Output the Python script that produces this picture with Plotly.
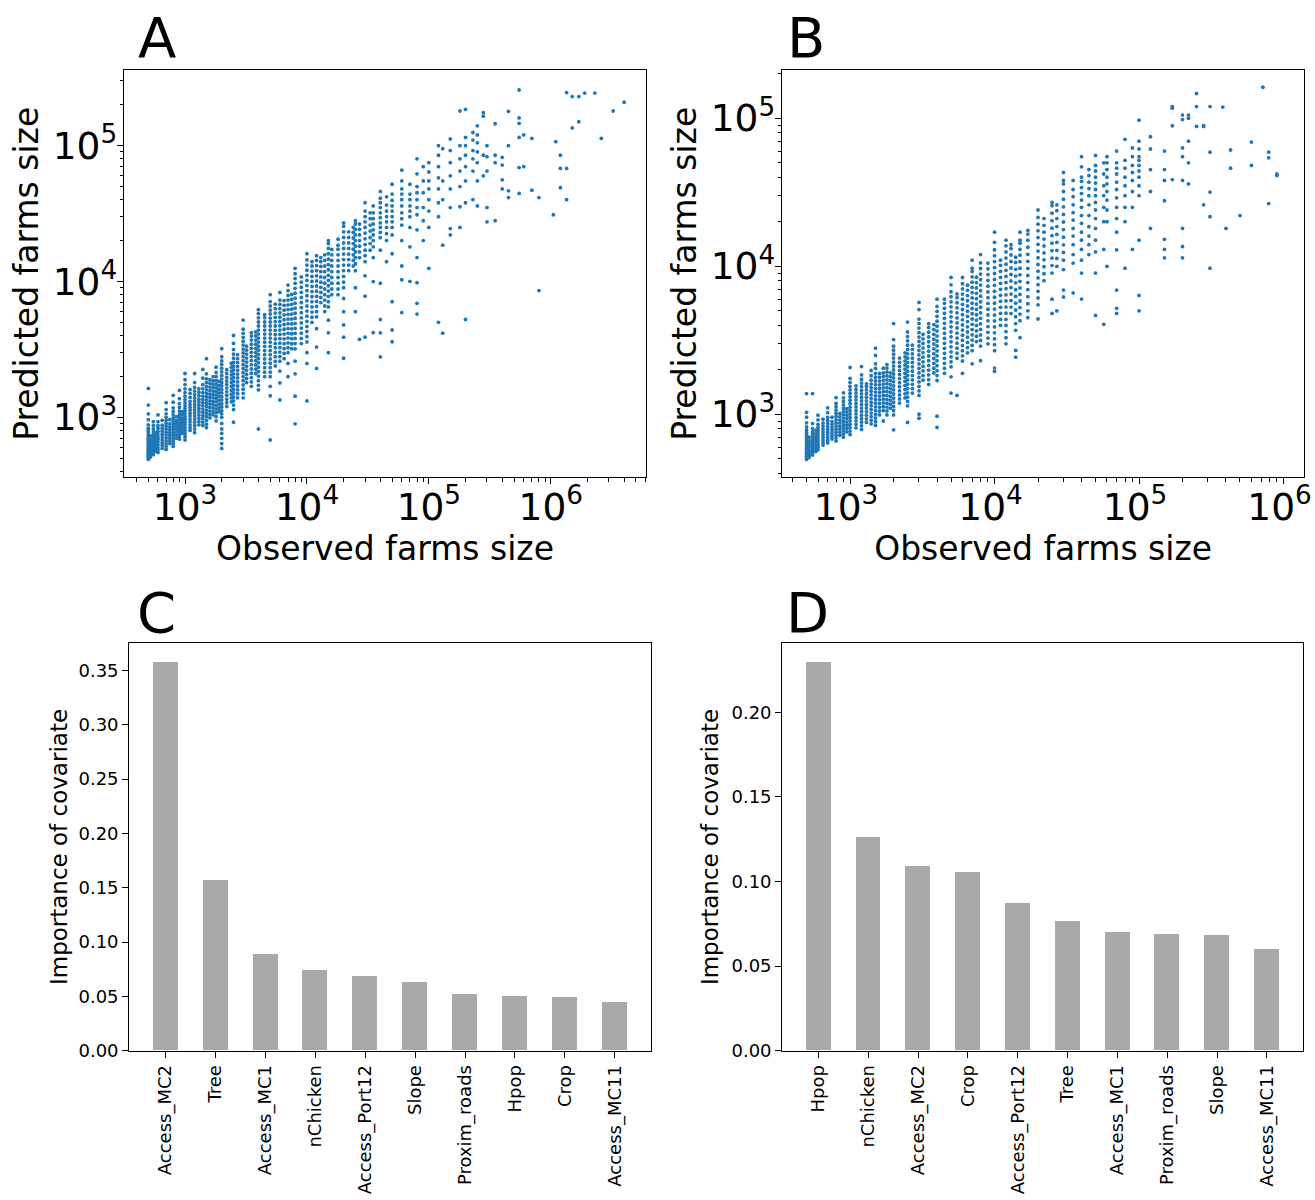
import plotly.graph_objects as go

# ---------------- Panel A: observed vs predicted, grouped by observed farm size ----------------
obs_cols_A = [500, 520, 550, 580, 600, 650, 700, 750, 800, 850, 900, 950, 1000, 1100, 1200, 1300,
              1400, 1500, 1600, 1700, 1800, 1900, 2000, 2200, 2400, 2500, 2700, 3000, 3200, 3500,
              3800, 4000, 4500, 5000, 5500, 6000, 6500, 7000, 7500, 8000, 9000, 10000, 11000,
              12000, 13000, 14000, 15000, 16000, 18000, 20000, 22000, 24000, 25000, 27000, 30000,
              33000, 35000, 40000, 45000, 50000, 60000, 70000, 80000, 90000, 100000, 120000,
              130000, 150000, 180000, 200000, 230000, 250000, 280000, 300000, 350000, 400000,
              450000, 550000, 600000, 700000, 800000, 1050000, 1100000, 1200000, 1350000,
              1500000, 1700000, 1900000, 2300000, 2600000, 3250000, 4000000]
pred_cols_A = [
    [490, 505, 520, 535, 550, 565, 580, 595, 610, 630, 650, 670, 690, 715, 740, 770, 800, 830, 880, 960, 1060, 1230, 1630],
    [510, 530, 550, 575, 600, 625, 655, 690, 730],
    [530, 550, 575, 600, 625, 650, 680, 710, 745, 780, 820, 870, 930],
    [560, 585, 610, 640, 670, 700, 735, 770],
    [550, 575, 600, 630, 660, 690, 720, 755, 790, 830, 870, 930, 1040],
    [590, 620, 650, 680, 715, 750, 790, 830, 875, 950],
    [580, 610, 640, 670, 705, 740, 775, 815, 855, 900, 950, 1000, 1060, 1140, 1280],
    [640, 670, 700, 735, 770, 810, 850, 895, 960],
    [610, 640, 670, 700, 735, 770, 810, 850, 890, 935, 985, 1040, 1100, 1170, 1290, 1450],
    [700, 740, 780, 820, 860, 905, 950, 1010],
    [690, 720, 755, 790, 830, 870, 910, 955, 1000, 1050, 1110, 1180, 1260, 1370, 1580],
    [760, 800, 840, 885, 930, 980, 1040, 1100],
    [680, 720, 760, 800, 840, 880, 920, 965, 1010, 1060, 1110, 1160, 1220, 1280, 1350, 1430, 1520, 1620, 1740, 1890, 2100],
    [800, 840, 880, 925, 970, 1020, 1070, 1125, 1180, 1240, 1310, 1400, 1500, 1600],
    [770, 820, 870, 920, 970, 1020, 1075, 1130, 1190, 1250, 1320, 1390, 1470, 1560, 1660, 1800, 2100],
    [880, 930, 985, 1040, 1100, 1160, 1225, 1290, 1360, 1440, 1530, 1620],
    [870, 920, 975, 1030, 1090, 1150, 1215, 1280, 1350, 1430, 1520, 1620, 1740, 1940, 2250],
    [840, 890, 950, 1010, 1070, 1130, 1200, 1270, 1340, 1420, 1500, 1590, 1690, 1800, 1920, 2090, 2700],
    [990, 1050, 1110, 1180, 1250, 1320, 1400, 1480, 1570, 1670, 1780, 1890],
    [1040, 1100, 1170, 1240, 1310, 1390, 1470, 1560, 1650, 1750, 1860, 1990],
    [940, 1010, 1080, 1150, 1220, 1300, 1380, 1460, 1550, 1650, 1760, 1870, 2000, 2140, 2340],
    [1100, 1170, 1250, 1330, 1420, 1510, 1610, 1720, 1840],
    [590, 640, 700, 760, 820, 900, 1000, 1060, 1120, 1190, 1260, 1340, 1420, 1510, 1600, 1700, 1800, 1910, 2030, 2160, 2300, 2450, 2600, 2790, 3200],
    [1200, 1280, 1360, 1450, 1540, 1640, 1740, 1850, 1970, 2100, 2240],
    [1300, 1390, 1480, 1580, 1690, 1800, 1920, 2050, 2190, 2340, 2500],
    [920, 1140, 1230, 1320, 1410, 1510, 1610, 1720, 1840, 1960, 2090, 2230, 2380, 2540, 2720, 2920, 3150, 3500, 4000],
    [1390, 1490, 1590, 1700, 1820, 1950, 2080, 2220, 2370, 2530, 2700, 2890],
    [1390, 1500, 1610, 1730, 1860, 1990, 2130, 2280, 2440, 2610, 2790, 2980, 3180, 3400, 3630, 3880, 4150, 4450, 5200],
    [1800, 1930, 2070, 2220, 2380, 2550, 2730, 2920, 3120, 3340],
    [1690, 1820, 1960, 2110, 2270, 2440, 2620, 2810, 3010, 3220, 3450, 3700, 3960, 4200],
    [2100, 2260, 2430, 2610, 2800, 3000, 3220, 3450, 3700, 3970, 4250],
    [820, 1590, 1720, 1860, 2010, 2170, 2340, 2520, 2710, 2910, 3120, 3340, 3580, 3830, 4100, 4390, 4700, 5030, 5400, 5800, 6200],
    [1990, 2150, 2320, 2500, 2690, 2890, 3100, 3330, 3570, 3830, 4100, 4390, 4700, 5030, 5400, 5700],
    [680, 1440, 1690, 1990, 2150, 2320, 2500, 2690, 2890, 3100, 3330, 3570, 3830, 4100, 4390, 4700, 5030, 5380, 5760, 6160, 6600, 7100, 8000],
    [2390, 2580, 2790, 3010, 3250, 3500, 3770, 4060, 4370, 4700, 5060, 5440, 5850, 6300, 6800],
    [1340, 1790, 2190, 2590, 2800, 3020, 3260, 3520, 3790, 4080, 4390, 4720, 5080, 5460, 5870, 6310, 6790, 7300, 8300],
    [2700, 2950, 3200, 3480, 3780, 4100, 4450, 4820, 5230, 5670, 6150, 6670, 7230],
    [1990, 2490, 2990, 3250, 3530, 3830, 4150, 4500, 4880, 5290, 5730, 6210, 6730, 7290, 7900, 8560, 9400],
    [3200, 3480, 3790, 4120, 4480, 4870, 5290, 5750, 6250, 6790, 7380, 8020],
    [895, 1430, 2090, 2590, 3190, 3490, 3810, 4150, 4520, 4920, 5360, 5840, 6360, 6920, 7530, 8190, 8910, 9690, 10500, 11400, 12500],
    [3490, 3810, 4160, 4540, 4950, 5400, 5890, 6420, 7000, 7630, 8320, 9070, 9890, 10800],
    [1320, 2490, 2990, 3590, 3920, 4280, 4670, 5090, 5550, 6050, 6600, 7200, 7850, 8560, 9330, 10200, 11100, 12100, 13200, 14400, 16000],
    [4990, 5450, 5950, 6490, 7080, 7720, 8420, 9180, 10000, 10900, 11900, 13000, 14000],
    [2290, 3290, 4490, 5490, 5990, 6540, 7130, 7780, 8490, 9260, 10100, 11000, 12000, 13100, 14300, 15500],
    [6990, 7620, 8310, 9060, 9880, 10800, 11800, 12900, 14000, 15000],
    [6000, 6600, 7300, 8000, 8800, 9700, 10700, 11800, 13000, 14300, 15700],
    [2990, 4190, 5190, 6490, 7100, 7770, 8500, 9300, 10200, 11100, 12200, 13300, 14600, 16000, 17500, 19000, 20000],
    [8000, 8800, 9700, 10700, 11800, 13000, 14300, 15700, 17200],
    [7990, 8800, 9700, 10700, 11800, 13000, 14300, 15700, 17300, 18500, 20500],
    [2720, 3890, 4790, 5990, 7490, 8990, 9900, 10900, 12000, 13200, 14500, 15900, 17500, 19200, 21100, 23200, 25500, 27000],
    [12000, 13200, 14500, 15900, 17500, 19200, 21100, 23200],
    [13000, 14300, 15700, 17300, 19000, 20900, 23000, 25000],
    [5990, 8990, 12000, 13500, 15000, 16500, 18200, 20000, 22000, 24200, 26500, 28000],
    [3750, 15000, 16500, 18200, 20000, 22000, 24200, 26500],
    [3890, 7790, 11000, 14000, 15500, 17000, 18700, 20600, 22700, 25000, 27500, 30000, 33000, 38000],
    [17000, 19000, 21000, 23500, 26000, 29000, 32000],
    [4200, 9990, 15000, 18000, 20000, 22000, 24000, 26500, 29000, 32000, 36000],
    [2780, 4190, 5250, 9700, 17000, 21000, 23000, 25000, 27000, 29500, 32000, 35000, 38000, 41000, 46000],
    [14000, 20000, 22500, 25000, 27500, 30000, 33000, 36500, 42000],
    [3600, 4400, 7100, 16000, 22000, 25000, 27500, 30000, 33000, 36000, 39500, 44000, 52000],
    [5900, 10300, 13000, 20000, 26000, 29000, 32000, 36000, 40000, 44000, 48000, 55000, 66000],
    [10000, 18000, 25000, 30000, 33000, 36000, 40000, 44000, 52000],
    [5750, 6900, 9800, 15000, 24000, 31000, 35000, 40000, 45000, 50000, 62000, 80000],
    [20000, 28000, 35000, 45000, 55000, 70000],
    [12500, 25000, 33000, 40000, 48000, 55000, 64000, 75000],
    [5000, 30000, 38000, 48000, 58000, 70000, 85000, 100000],
    [4160, 18500, 40000, 55000, 95000],
    [22000, 24500, 35000, 48000, 60000, 75000, 92000, 112000],
    [25000, 35500, 50000, 65000, 80000, 100000, 180000],
    [5250, 38000, 55000, 70000, 85000, 100000, 115000, 185000],
    [40000, 65000, 80000, 92000, 110000, 125000],
    [36000, 55000, 75000, 90000, 105000, 120000, 140000],
    [60000, 85000, 165000, 175000],
    [27500, 35000, 65000, 83000, 100000],
    [28000, 75000, 85000, 145000],
    [48000, 56000, 72000, 82000],
    [41500, 46500, 100000, 179000],
    [44500, 69000, 115000, 146000, 160000, 257000],
    [70000, 120000],
    [47000, 113000],
    [8570, 41500],
    [31000],
    [107000],
    [49000, 68000, 85000],
    [40000, 68000, 246000],
    [135000, 230000],
    [150000, 230000],
    [244000],
    [244000],
    [113000],
    [180000],
    [209000],
]

# ---------------- Panel B ----------------
obs_cols_B = [500, 520, 550, 580, 600, 650, 700, 750, 800, 850, 900, 950, 1000, 1100, 1200, 1300,
              1400, 1500, 1600, 1700, 1800, 1900, 2000, 2200, 2400, 2500, 2700, 3000, 3200, 3500,
              3800, 4000, 4500, 5000, 5500, 6000, 6500, 7000, 7500, 8000, 9000, 10000, 11000,
              12000, 13000, 14000, 15000, 17000, 20000, 22000, 25000, 27000, 30000, 35000, 40000,
              45000, 50000, 57000, 60000, 70000, 80000, 90000, 100000, 120000, 150000, 170000,
              200000, 220000, 250000, 280000, 310000, 380000, 400000, 430000, 500000, 600000,
              720000, 790000, 900000]
pred_cols_B = [
    [495, 507, 520, 533, 546, 560, 575, 590, 606, 623, 641, 660, 680, 702, 725, 750, 780, 820, 875, 955, 1030, 1380],
    [510, 525, 541, 558, 576, 596, 617, 640, 665, 700],
    [530, 547, 565, 584, 604, 625, 648, 672, 698, 727, 760, 800, 865, 1380],
    [560, 580, 602, 625, 650, 676, 705, 740, 780],
    [575, 595, 617, 640, 664, 690, 718, 748, 780, 815, 855, 915, 985],
    [620, 645, 671, 699, 729, 761, 795, 832, 872, 925],
    [640, 666, 694, 724, 756, 790, 826, 865, 907, 952, 1025, 1105],
    [680, 710, 742, 776, 812, 851, 893, 955],
    [660, 690, 722, 756, 792, 830, 871, 915, 962, 1012, 1066, 1124, 1185, 1295],
    [720, 755, 792, 831, 872, 916, 963, 1013],
    [700, 735, 772, 811, 852, 896, 942, 991, 1043, 1098, 1157, 1220, 1290, 1395],
    [760, 800, 842, 886, 933, 983, 1036, 1092],
    [730, 770, 812, 856, 903, 952, 1004, 1059, 1117, 1178, 1243, 1311, 1383, 1460, 1545, 1640, 1750, 2070],
    [810, 855, 902, 952, 1005, 1061, 1120, 1183, 1249, 1319, 1393, 1470, 1555],
    [790, 835, 883, 933, 986, 1042, 1101, 1164, 1230, 1300, 1374, 1452, 1535, 1625, 1720, 1845, 2100],
    [880, 931, 985, 1042, 1102, 1166, 1233, 1304, 1379, 1459, 1543, 1605],
    [860, 910, 963, 1019, 1078, 1141, 1207, 1277, 1351, 1430, 1513, 1600, 1700, 1820, 1975],
    [840, 890, 943, 999, 1058, 1121, 1188, 1258, 1333, 1412, 1496, 1585, 1680, 1780, 1890, 2040, 2190, 2495, 2795],
    [990, 1050, 1113, 1180, 1251, 1326, 1406, 1490, 1580, 1675, 1775, 1885],
    [900, 1060, 1124, 1192, 1264, 1340, 1421, 1507, 1598, 1694, 1796, 1900, 2045],
    [990, 1052, 1118, 1188, 1262, 1341, 1425, 1514, 1609, 1709, 1816, 1930, 2050, 2165],
    [1100, 1170, 1244, 1322, 1405, 1493, 1587, 1687, 1793, 1905],
    [785, 990, 1060, 1130, 1205, 1285, 1370, 1460, 1555, 1655, 1760, 1870, 1990, 2115, 2250, 2395, 2545, 2710, 2880, 3195, 4100],
    [1190, 1268, 1351, 1440, 1534, 1634, 1741, 1855, 1976, 2105, 2243, 2395],
    [1290, 1375, 1466, 1563, 1666, 1776, 1893, 2018, 2151, 2293, 2444, 2600],
    [880, 1140, 1220, 1305, 1396, 1493, 1597, 1708, 1827, 1954, 2090, 2236, 2392, 2559, 2737, 2928, 3132, 3350, 3595, 4195],
    [1390, 1488, 1593, 1705, 1825, 1953, 2090, 2237, 2394, 2562, 2742, 2935],
    [940, 1000, 1340, 1437, 1541, 1653, 1773, 1901, 2039, 2187, 2345, 2515, 2697, 2892, 3101, 3325, 3566, 3824, 4100, 4395, 5095, 5700],
    [1700, 1826, 1961, 2106, 2262, 2429, 2609, 2802, 3009, 3232, 3470],
    [1590, 1712, 1843, 1984, 2136, 2300, 2476, 2666, 2870, 3090, 3327, 3582, 3856, 4095],
    [1900, 2048, 2208, 2380, 2566, 2766, 2982, 3215, 3466, 3736, 4027],
    [815, 970, 1690, 1825, 1971, 2128, 2298, 2482, 2680, 2894, 3125, 3375, 3645, 3936, 4250, 4590, 4957, 5353, 5995],
    [1890, 2043, 2208, 2387, 2580, 2789, 3015, 3259, 3523, 3808, 4116, 4449, 4809, 5198, 5619, 5995],
    [1390, 1790, 2090, 2260, 2443, 2641, 2855, 3086, 3336, 3606, 3898, 4214, 4555, 4924, 5323, 5754, 6220, 6724, 7495, 8400],
    [1340, 2390, 2585, 2796, 3024, 3271, 3538, 3827, 4139, 4477, 4843, 5238, 5666, 6129, 6495],
    [1890, 2290, 2480, 2687, 2911, 3154, 3417, 3702, 4011, 4346, 4709, 5102, 5528, 5989, 6489, 7030, 7617, 8395],
    [2600, 2820, 3058, 3316, 3596, 3899, 4228, 4585, 4972, 5391, 5846, 6339, 6874, 7454],
    [2190, 2690, 2920, 3170, 3441, 3735, 4054, 4400, 4776, 5184, 5627, 6108, 6630, 7196, 7811, 8478, 9202, 9695, 11000],
    [3100, 3370, 3663, 3981, 4327, 4703, 5112, 5556, 6039, 6564, 7134, 7754, 8428],
    [2300, 2890, 3150, 3434, 3743, 4080, 4447, 4847, 5283, 5758, 6276, 6841, 7457, 8128, 8860, 9657, 10526, 12000],
    [2990, 3270, 3577, 3913, 4281, 4683, 5123, 5604, 6130, 6706, 7336, 8025, 8779, 9604, 10506],
    [1950, 2050, 2690, 2950, 3235, 3548, 3891, 4267, 4680, 5133, 5630, 6175, 6773, 7428, 8147, 8935, 9800, 10748, 11788, 12929, 14500, 17000],
    [3990, 4380, 4808, 5278, 5794, 6360, 6982, 7664, 8413, 9235, 10138, 11000],
    [2990, 3290, 3620, 3982, 4380, 4818, 5300, 5830, 6413, 7054, 7759, 8535, 9389, 10328, 11361, 12497, 13746, 15000],
    [4790, 5300, 5865, 6490, 7182, 7947, 8794, 9731, 10768, 11916, 13186, 14000],
    [2430, 2700, 3690, 4100, 4557, 5064, 5627, 6253, 6949, 7722, 8581, 9536, 10597, 11500],
    [3290, 4290, 4750, 5260, 5824, 6449, 7141, 7907, 8755, 9694, 10734, 11886, 13000, 14300, 15000, 17000],
    [4490, 5000, 5580, 6230, 6950, 7760, 8660, 9670, 10790, 12040, 13440, 15000, 16500, 17500],
    [4400, 5490, 6100, 6770, 7510, 8340, 9260, 10280, 11410, 12670, 14070, 15620, 17340, 19250, 21370, 24000],
    [7990, 8900, 9920, 11050, 12300, 13700, 15260, 17000, 18900, 21000],
    [4800, 5990, 8990, 10100, 11350, 12750, 14330, 16100, 18090, 20330, 22850, 25680, 27000],
    [4990, 9990, 11300, 12800, 14500, 16400, 18550, 21000, 23750, 26000],
    [6200, 6900, 9490, 11000, 12400, 13950, 15700, 17700, 19900, 22400, 25200, 28400, 32000, 36000, 38000, 43000],
    [6600, 10500, 12000, 14000, 16000, 18000, 20500, 23000, 26000, 29500, 33000, 38000],
    [6000, 8990, 11000, 13000, 15000, 17000, 19500, 22000, 25000, 28000, 31000, 34000, 37500, 40000, 47000, 55000],
    [12000, 14000, 16000, 18500, 22000, 26000, 30000, 33500, 37000, 41000, 45000],
    [4650, 8990, 12500, 15000, 18000, 21000, 24000, 27000, 30000, 33000, 36500, 40000, 44000, 48000, 56000],
    [4050, 13000, 20000, 25000, 30000, 35000, 42000, 50000],
    [9990, 20000, 24000, 28000, 32000, 36000, 40000, 45000, 50000, 55000],
    [4800, 5200, 6900, 12900, 17000, 21000, 25000, 29000, 33000, 37000, 42000, 46000, 50000, 60000],
    [9700, 20000, 25000, 30000, 35000, 40000, 46000, 52000, 72000],
    [13000, 25000, 32000, 38000, 43000, 48000, 55000, 63000],
    [5000, 6350, 15000, 30000, 35000, 40000, 44000, 48000, 52000, 55000, 62000, 70000, 97000],
    [18000, 32000, 45000, 62000, 75000],
    [11400, 13000, 15200, 27700, 38000, 45000, 60000],
    [38500, 89000, 117000, 120000],
    [11400, 13600, 18000, 38000, 55000, 63000, 98000, 105000],
    [36000, 50000, 70000, 100000, 105000],
    [88000, 120000, 147000],
    [26000, 88000, 89000],
    [9700, 21600, 31700, 59000, 120000],
    [119000],
    [18000],
    [46000, 61000],
    [22000],
    [48000, 69000],
    [162000],
    [26500, 54000, 59000],
    [41000, 42000],
]

# ---------------- Panels C and D: covariate importance ----------------
covariates_C = ["Access_MC2", "Tree", "Access_MC1", "nChicken", "Access_Port12",
                "Slope", "Proxim_roads", "Hpop", "Crop", "Access_MC11"]
importance_C = [0.357, 0.157, 0.0888, 0.0737, 0.0685, 0.0628, 0.0518, 0.0502, 0.0490, 0.0443]

covariates_D = ["Hpop", "nChicken", "Access_MC2", "Crop", "Access_Port12",
                "Tree", "Access_MC1", "Proxim_roads", "Slope", "Access_MC11"]
importance_D = [0.2295, 0.1262, 0.1092, 0.1057, 0.0871, 0.0762, 0.0698, 0.0690, 0.0684, 0.0598]


def flatten(cols, vals):
    xs, ys = [], []
    for c, v in zip(cols, vals):
        for y in v:
            xs.append(c)
            ys.append(y)
    return xs, ys


xA, yA = flatten(obs_cols_A, pred_cols_A)
xB, yB = flatten(obs_cols_B, pred_cols_B)

W, H = 1315, 1200
FONT = "DejaVu Sans"
BLUE = "#1f77b4"
GREY = "#a9a9a9"


def px_x(p):
    return p / W


def px_y(p):
    return 1 - p / H


fig = go.Figure()

mk = dict(color=BLUE, size=3.8, line=dict(width=0))
fig.add_trace(go.Scatter(x=xA, y=yA, mode="markers", marker=mk, xaxis="x", yaxis="y",
                         showlegend=False))
fig.add_trace(go.Scatter(x=xB, y=yB, mode="markers", marker=mk, xaxis="x2", yaxis="y2",
                         showlegend=False))
fig.add_trace(go.Bar(x=covariates_C, y=importance_C, width=0.5, marker=dict(color=GREY, line=dict(width=0)),
                     xaxis="x3", yaxis="y3", showlegend=False))
fig.add_trace(go.Bar(x=covariates_D, y=importance_D, width=0.5, marker=dict(color=GREY, line=dict(width=0)),
                     xaxis="x4", yaxis="y4", showlegend=False))

frame = dict(showline=True, mirror=True, linecolor="black", linewidth=1.3,
             ticks="outside", tickcolor="black", tickwidth=1.3, showgrid=False,
             zeroline=False, automargin=False)
logminor = dict(ticks="outside", ticklen=3.5, tickcolor="black", tickwidth=1, showgrid=False)
logfont = dict(family=FONT, size=30, color="black")
titlefont = dict(family=FONT, size=33, color="black")
barfont = dict(family=FONT, size=18, color="black")
bartitle = dict(family=FONT, size=23, color="black")

dA_x = [px_x(124.3), px_x(645.7)]
dB_x = [px_x(782.3), px_x(1304)]
dC_x = [px_x(129.3), px_x(651)]
dD_x = [px_x(782.3), px_x(1303)]
dTop_y = [px_y(477.3), px_y(70.3)]
dBot_y = [px_y(1050.7), px_y(643.3)]

logx = dict(frame, type="log", dtick=1, exponentformat="power", ticklen=6, minor=logminor,
            tickfont=logfont, ticklabeloverflow="allow", ticklabelstandoff=-8)
logy = dict(frame, type="log", dtick=1, exponentformat="power", ticklen=6, minor=logminor,
            tickfont=logfont, ticklabeloverflow="allow", ticklabelstandoff=-6)

fig.update_layout(
    width=W, height=H,
    margin=dict(l=0, r=0, t=0, b=0),
    paper_bgcolor="white", plot_bgcolor="white",
    font=dict(family=FONT, color="black"),
    bargap=0,
    xaxis=dict(logx, domain=dA_x, range=[2.502, 6.779],
               title=dict(text="Observed farms size", font=titlefont, standoff=3), anchor="y"),
    yaxis=dict(logy, domain=dTop_y, range=[2.558, 5.555],
               title=dict(text="Predicted farms size", font=titlefont, standoff=4), anchor="x"),
    xaxis2=dict(logx, domain=dB_x, range=[2.531, 6.142], ticklabelshift=-4,
                title=dict(text="Observed farms size", font=titlefont, standoff=3), anchor="y2"),
    yaxis2=dict(logy, domain=dTop_y, range=[2.574, 5.324],
                title=dict(text="Predicted farms size", font=titlefont, standoff=4), anchor="x2"),
    xaxis3=dict(frame, domain=dC_x, range=[-0.725, 9.725], ticklen=6, tickangle=-90,
                tickfont=barfont, anchor="y3"),
    yaxis3=dict(frame, domain=dBot_y, range=[0, 0.3749], dtick=0.05, tickformat=".2f", ticklen=6,
                tickfont=barfont,
                title=dict(text="Importance of covariate", font=bartitle, standoff=4), anchor="x3"),
    xaxis4=dict(frame, domain=dD_x, range=[-0.725, 9.725], ticklen=6, tickangle=-90,
                tickfont=barfont, anchor="y4"),
    yaxis4=dict(frame, domain=dBot_y, range=[0, 0.2408], dtick=0.05, tickformat=".2f", ticklen=6,
                tickfont=barfont,
                title=dict(text="Importance of covariate", font=bartitle, standoff=6), anchor="x4"),
)

labels = [("A", 136, 37), ("B", 785, 37), ("C", 135, 612), ("D", 784, 612)]
for txt, lx, ly in labels:
    fig.add_annotation(text=txt, xref="paper", yref="paper", x=px_x(lx), y=px_y(ly),
                       xanchor="left", yanchor="middle", showarrow=False,
                       font=dict(family=FONT, size=56, color="black"))

fig.write_html("out.html")
